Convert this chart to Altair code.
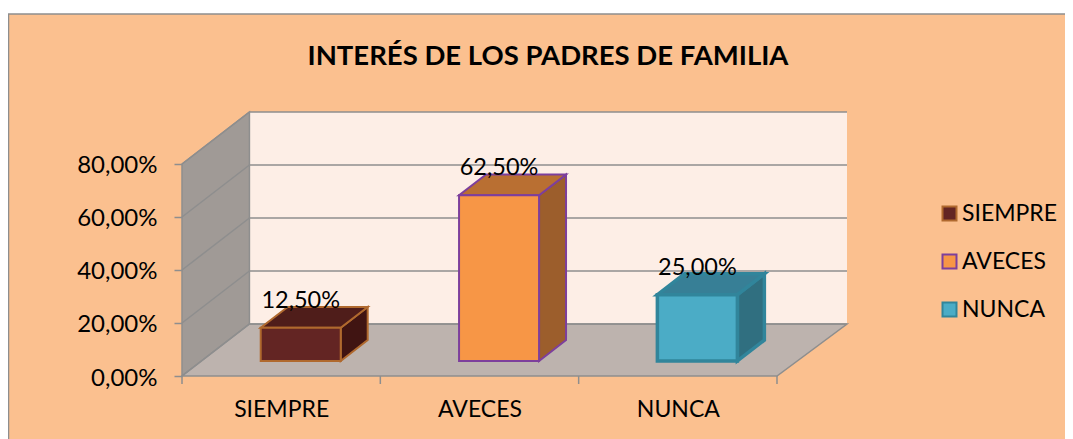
import json
import altair as alt
import pandas as pd

TITLE = "INTERÉS DE LOS PADRES DE FAMILIA"
CATEGORIES = ["SIEMPRE", "AVECES", "NUNCA"]
VALUES = [0.125, 0.625, 0.25]
LABELS = ["12,50%", "62,50%", "25,00%"]
Y_TICKS = [0.0, 0.2, 0.4, 0.6, 0.8]
X_TICKS = [0, 1, 2, 3]

FRONT_COLORS = ["#632523", "#F79646", "#4BACC6"]
TOP_COLORS = ["#4F1D1A", "#B96F32", "#377F96"]
SIDE_COLORS = ["#401412", "#9C5E2C", "#306F80"]
STROKE_COLORS = ["#B0692E", "#7D3F9C", "#31859B"]
STROKE_WIDTHS = [2, 2, 3.5]

FONT = "Lato"
BG = "#FBC08F"
EDGE = "#8E8E8E"
LEFT_PAD, TOP_PAD, W, H = 174, 104, 665, 264
TOTAL_W, TOTAL_H = 1057, 431

N = len(CATEGORIES)
DX, DY = 0.34, 0.1962          # depth of the 3-D box, in axis units
WALL_RIGHT = 3.353
TOP_V = max(Y_TICKS)
D_FRONT, D_BACK = 0.29, 0.69   # the bars' depth span
HALF = 0.2017

xs = alt.Scale(domain=[0, WALL_RIGHT], nice=False, zero=False)
ys = alt.Scale(domain=[0, TOP_V + DY], nice=False, zero=False)

val_label = "replace(format(datum.value, '.2%'), '.', ',')"
cat_label = json.dumps(CATEGORIES) + "[floor(datum.value)]"

x_axis = alt.Axis(
    values=[i + 0.5 for i in range(N)], labelExpr=cat_label, tickSize=0, domain=False, grid=False,
    labelFont=FONT, labelFontSize=23, labelColor="#000000", labelPadding=22, zindex=1, labelFlush=False)
y_axis = alt.Axis(
    values=Y_TICKS, labelExpr=val_label, tickSize=8, tickWidth=1.5, tickColor=EDGE, domain=False, grid=False,
    labelFont=FONT, labelFontSize=24, labelColor="#000000", labelPadding=17, labelOffset=2, zindex=1)


def X(f="x"):
    return alt.X(f"{f}:Q", scale=xs, axis=x_axis, title=None, stack=False)


def Y(f="y"):
    return alt.Y(f"{f}:Q", scale=ys, axis=y_axis, title=None, stack=False)


# faces of the bars
faces = []
for i, c in enumerate(CATEGORIES):
    faces += [(f"{c}", FRONT_COLORS[i], STROKE_COLORS[i]),
              (f"{c} top", TOP_COLORS[i], STROKE_COLORS[i]),
              (f"{c} side", SIDE_COLORS[i], STROKE_COLORS[i])]
face_domain = [f[0] for f in faces]
color_scale = alt.Scale(domain=face_domain, range=[f[1] for f in faces])
stroke_scale = alt.Scale(domain=face_domain, range=[f[2] for f in faces])

front, side, top, lab = [], [], [], []
for i, (c, v, l) in enumerate(zip(CATEGORIES, VALUES, LABELS)):
    cx = i + 0.5
    sw = STROKE_WIDTHS[i]
    xl, xr = cx - HALF, cx + HALF
    front.append(dict(face=c, sw=sw, x=xl + D_FRONT * DX, x2=xr + D_FRONT * DX,
                      y=D_FRONT * DY, y2=v + D_FRONT * DY))
    for d in (D_FRONT, D_BACK):
        side.append(dict(face=f"{c} side", sw=sw, x=xr + d * DX, y=d * DY, y2=v + d * DY))
        top.append(dict(face=f"{c} top", sw=sw, y=v + d * DY, x=xl + d * DX, x2=xr + d * DX))
    lab.append(dict(x=cx + D_FRONT * DX, y=v + D_FRONT * DY, t=l))

one = pd.DataFrame({"a": [0]})
# the strip above the card and the card's edges
white = alt.Chart(one).mark_rect(fill="#FFFFFF").encode(
    x=alt.value(-LEFT_PAD - 5), x2=alt.value(TOTAL_W),
    y=alt.value(-TOP_PAD - 5), y2=alt.value(-TOP_PAD + 6),
)
edge_top = alt.Chart(one).mark_rule(color=EDGE, strokeWidth=1.5).encode(
    x=alt.value(-LEFT_PAD), x2=alt.value(TOTAL_W), y=alt.value(-TOP_PAD + 6)
)
edge_left = alt.Chart(one).mark_rule(color=EDGE, strokeWidth=1.5).encode(
    x=alt.value(-LEFT_PAD + 0.5), y=alt.value(-TOP_PAD + 6), y2=alt.value(TOTAL_H)
)

wall = alt.Chart(pd.DataFrame({"x": [DX], "x2": [WALL_RIGHT], "y": [DY], "y2": [TOP_V + DY]})).mark_rect(
    fill="#FDEEE6"
).encode(x=X(), x2="x2:Q", y=Y(), y2="y2:Q")

left_wall = alt.Chart(pd.DataFrame({"x": [0, DX], "y": [0, DY], "y2": [TOP_V, TOP_V + DY]})).mark_area(
    fill="#A09A96", stroke=EDGE, strokeWidth=1.5
).encode(x=X(), y=Y(), y2="y2:Q")

floor = alt.Chart(pd.DataFrame({"y": [0, DY], "x": [0, DX], "x2": [X_TICKS[-1], WALL_RIGHT]})).mark_area(
    orient="horizontal", fill="#BDB3AE", stroke=EDGE, strokeWidth=1.5
).encode(y=Y(), x=X(), x2="x2:Q")

grid_back = alt.Chart(pd.DataFrame({"v": [v + DY for v in Y_TICKS]})).mark_rule(
    color=EDGE, strokeWidth=1.5
).encode(y=Y("v"), x=alt.value(DX / WALL_RIGHT * W), x2=alt.value(W))

diag_rows = []
for v in Y_TICKS:
    diag_rows += [dict(g=v, x=0, y=v), dict(g=v, x=DX, y=v + DY)]
grid_left = alt.Chart(pd.DataFrame(diag_rows)).mark_line(color=EDGE, strokeWidth=1.5).encode(
    x=X(), y=Y(), detail="g:N"
)

x_ticks = alt.Chart(pd.DataFrame({"x": X_TICKS})).mark_rule(color=EDGE, strokeWidth=1.5).encode(
    x=X(), y=alt.value(H), y2=alt.value(H + 8)
)

legend = alt.Legend(
    values=CATEGORIES, orient="none", legendX=756, legendY=90,
    symbolType="square", symbolSize=196, symbolStrokeWidth=2, symbolOpacity=1,
    labelFont=FONT, labelFontSize=23, labelColor="#000000", labelOffset=1,
    rowPadding=24, padding=0)
sw_enc = alt.StrokeWidth("sw:Q", scale=None, legend=None)

front_l = alt.Chart(pd.DataFrame(front)).mark_rect().encode(
    x=X(), x2="x2:Q", y=Y(), y2="y2:Q",
    color=alt.Color("face:N", scale=color_scale, title=None, legend=legend),
    stroke=alt.Stroke("face:N", scale=stroke_scale, title=None, legend=legend),
    strokeWidth=sw_enc,
)
side_l = alt.Chart(pd.DataFrame(side)).mark_area(opacity=1).encode(
    x=X(), y=Y(), y2="y2:Q",
    color=alt.Color("face:N", scale=color_scale, title=None, legend=legend),
    stroke=alt.Stroke("face:N", scale=stroke_scale, title=None, legend=legend),
    strokeWidth=sw_enc,
)
top_l = alt.Chart(pd.DataFrame(top)).mark_area(orient="horizontal", opacity=1).encode(
    y=Y(), x=X(), x2="x2:Q",
    color=alt.Color("face:N", scale=color_scale, title=None, legend=legend),
    stroke=alt.Stroke("face:N", scale=stroke_scale, title=None, legend=legend),
    strokeWidth=sw_enc,
)
text_l = alt.Chart(pd.DataFrame(lab)).mark_text(
    font=FONT, fontSize=23.5, color="#000000", baseline="alphabetic", dy=-20
).encode(x=X(), y=Y(), text="t:N")

title_l = alt.Chart(pd.DataFrame({"t": [TITLE]})).mark_text(
    font=FONT, fontSize=27.5, fontWeight="bold", color="#000000", baseline="alphabetic", align="center"
).encode(x=alt.value(366), y=alt.value(-47), text="t:N")

chart = alt.layer(
    white, edge_top, edge_left, wall, left_wall, floor, grid_back, grid_left, x_ticks,
    side_l, top_l, front_l, text_l, title_l
).properties(
    width=W, height=H, background=BG,
    autosize="none",
    padding={"left": LEFT_PAD, "top": TOP_PAD, "right": TOTAL_W - LEFT_PAD - W, "bottom": TOTAL_H - TOP_PAD - H},
).configure_view(stroke=None)

chart.save("out.html", embed_options={"renderer": "svg", "actions": False})
